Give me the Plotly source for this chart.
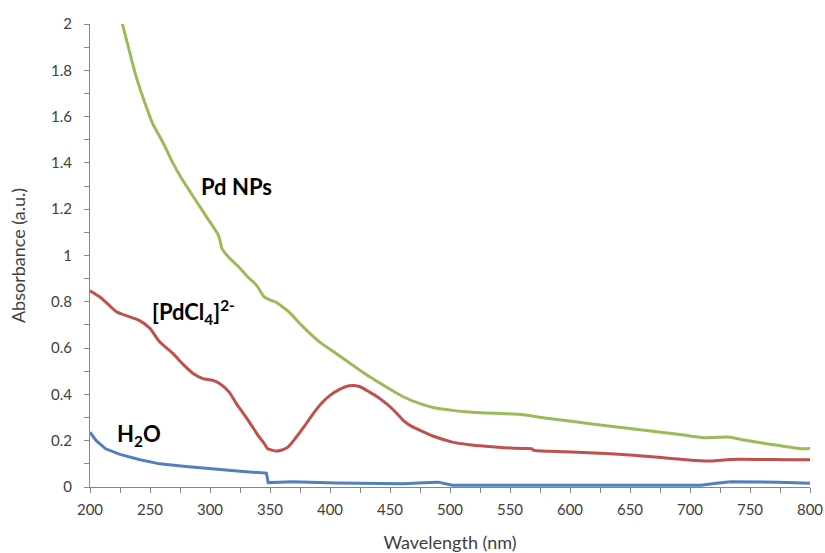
import plotly.graph_objects as go

# Pd NPs (green)
pd_nm = [218, 222, 227, 231, 238, 246, 252, 261, 269, 277, 286, 297, 307, 308.5, 310, 316, 325, 332, 339, 345, 350, 355, 360, 366, 377, 391, 405, 419, 433, 447, 461, 475, 488, 502, 516, 530, 544, 561, 579, 606, 634, 662, 690, 711, 720, 732, 745, 760, 773, 786, 795, 800]
pd_abs = [2.20, 2.10, 2.00, 1.92, 1.78, 1.655, 1.572, 1.486, 1.40, 1.327, 1.255, 1.168, 1.088, 1.06, 1.03, 0.99, 0.945, 0.905, 0.87, 0.822, 0.808, 0.798, 0.78, 0.755, 0.695, 0.628, 0.577, 0.526, 0.476, 0.432, 0.39, 0.36, 0.341, 0.331, 0.324, 0.32, 0.317, 0.312, 0.298, 0.281, 0.262, 0.245, 0.228, 0.213, 0.214, 0.216, 0.203, 0.19, 0.18, 0.17, 0.165, 0.166]

# [PdCl4]2- (red)
pdcl_nm = [200, 208, 215, 222, 233, 241, 250, 258, 269, 277, 286, 294, 302, 308, 316, 322, 330, 336, 341, 345, 348, 350, 355, 360, 365, 372, 379, 386, 393, 400, 408, 416, 420, 425, 433, 440, 447, 455, 461, 468, 475, 488, 502, 516, 530, 545, 561, 568, 570, 583, 606, 634, 655, 676, 704, 718, 734, 760, 780, 800]
pdcl_abs = [0.848, 0.822, 0.79, 0.757, 0.735, 0.72, 0.685, 0.627, 0.577, 0.533, 0.49, 0.468, 0.461, 0.447, 0.41, 0.36, 0.302, 0.255, 0.216, 0.19, 0.165, 0.162, 0.155, 0.16, 0.172, 0.216, 0.265, 0.317, 0.362, 0.396, 0.422, 0.437, 0.438, 0.433, 0.41, 0.388, 0.36, 0.322, 0.288, 0.262, 0.245, 0.216, 0.194, 0.183, 0.176, 0.17, 0.166, 0.165, 0.158, 0.154, 0.15, 0.144, 0.136, 0.127, 0.115, 0.112, 0.119, 0.119, 0.118, 0.118]

# H2O (blue)
h2o_nm = [200, 205, 213, 225, 241, 258, 280, 308, 316, 330, 347, 348.5, 358, 369, 405, 461, 478, 490, 502, 583, 650, 709, 722, 734, 773, 798, 800]
h2o_abs = [0.237, 0.201, 0.165, 0.141, 0.119, 0.1, 0.089, 0.075, 0.074, 0.066, 0.06, 0.019, 0.021, 0.023, 0.017, 0.014, 0.018, 0.021, 0.008, 0.007, 0.007, 0.008, 0.016, 0.023, 0.021, 0.016, 0.016]

x_ticks = [200, 250, 300, 350, 400, 450, 500, 550, 600, 650, 700, 750, 800]
y_ticks = [0, 0.2, 0.4, 0.6, 0.8, 1, 1.2, 1.4, 1.6, 1.8, 2]

FONT = "Lato, 'Open Sans', sans-serif"
AXIS_COLOR = "#868686"
TEXT_COLOR = "#404040"

fig = go.Figure()
fig.add_trace(go.Scatter(x=pd_nm, y=pd_abs, mode="lines", name="Pd NPs",
                         line=dict(color="#9BBB59", width=3, shape="spline", smoothing=0.6)))
fig.add_trace(go.Scatter(x=pdcl_nm, y=pdcl_abs, mode="lines", name="[PdCl4]2-",
                         line=dict(color="#C0504D", width=3, shape="spline", smoothing=0.6)))
fig.add_trace(go.Scatter(x=h2o_nm, y=h2o_abs, mode="lines", name="H2O",
                         line=dict(color="#4F81BD", width=3)))

fig.update_layout(
    width=825, height=553,
    margin=dict(l=90, r=15, t=24, b=66),
    paper_bgcolor="white", plot_bgcolor="white",
    showlegend=False,
    font=dict(family=FONT, size=15, color=TEXT_COLOR),
)
fig.update_xaxes(
    range=[200, 800], tickvals=x_ticks, ticktext=[str(v) for v in x_ticks],
    showgrid=False, zeroline=False, showline=True, linecolor=AXIS_COLOR, linewidth=1,
    ticks="outside", ticklen=5, tickcolor=AXIS_COLOR,
    minor=dict(ticks="outside", ticklen=5, tickcolor=AXIS_COLOR, dtick=25, showgrid=False),
    tickfont=dict(size=15, color=TEXT_COLOR),
    ticklabelstandoff=4,
    automargin=False,
    title=dict(text="Wavelength (nm)", font=dict(size=18, color=TEXT_COLOR), standoff=24),
)
fig.update_yaxes(
    range=[0, 2], tickvals=y_ticks, ticktext=[("%g" % v) for v in y_ticks],
    showgrid=False, zeroline=False, showline=True, linecolor=AXIS_COLOR, linewidth=1,
    ticks="outside", ticklen=5, tickcolor=AXIS_COLOR,
    minor=dict(ticks="outside", ticklen=5, tickcolor=AXIS_COLOR, dtick=0.1, showgrid=False),
    tickfont=dict(size=15, color=TEXT_COLOR),
    ticklabelstandoff=9,
    automargin=False,
    title=dict(text="Absorbance (a.u.)", font=dict(size=18, color=TEXT_COLOR), standoff=20),
)

fig.add_annotation(x=322, y=1.30, text="<b>Pd NPs</b>", showarrow=False,
                   font=dict(family=FONT, size=22, color="black"))
fig.add_annotation(x=286, y=0.755, text="<b>[PdCl<sub>4</sub>]<sup>2-</sup></b>", showarrow=False,
                   font=dict(family=FONT, size=22, color="black"))
fig.add_annotation(x=241, y=0.225, text="<b>H<sub>2</sub>O</b>", showarrow=False,
                   font=dict(family=FONT, size=22, color="black"))

fig.write_html("out.html", config={"displayModeBar": False},
               post_script="document.body.style.margin='0';document.body.style.overflow='hidden';")
